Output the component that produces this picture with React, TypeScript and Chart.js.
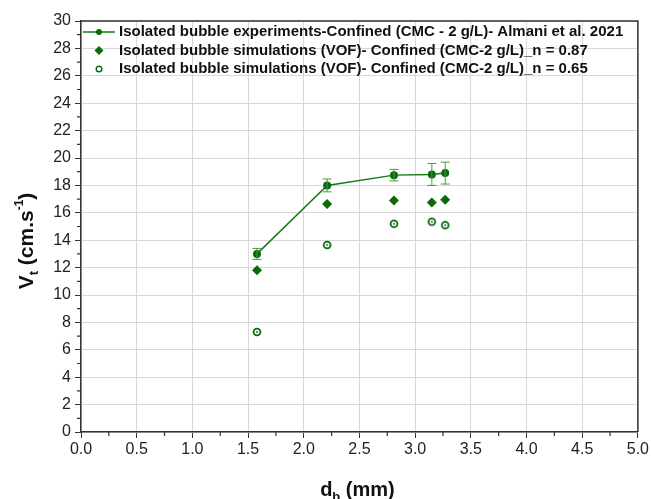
import React, { useEffect, useRef } from "react";
import { Chart, registerables } from "chart.js";

Chart.register(...registerables);

const bubbleDiameters = [1.58, 2.21, 2.81, 3.15, 3.27];
const expVelocity = [13.0, 18.0, 18.75, 18.8, 18.9];
const expError = [0.4, 0.47, 0.42, 0.8, 0.8];
const simVelocityN087 = [11.8, 16.65, 16.9, 16.75, 16.95];
const simVelocityN065 = [7.3, 13.65, 15.2, 15.35, 15.1];
const seriesLabels = [
  "Isolated bubble experiments-Confined (CMC - 2 g/L)- Almani et al. 2021",
  "Isolated bubble simulations (VOF)- Confined (CMC-2 g/L)_n = 0.87",
  "Isolated bubble simulations (VOF)- Confined (CMC-2 g/L)_n = 0.65",
];

const GREEN = "#0b6a0b";
const LINE_GREEN = "#167a16";
const ERR_GREEN = "#3f9f3f";
const FONT = "'Liberation Sans', Arial, sans-serif";

function makeRing(r: number, lw: number) {
  const c = document.createElement("canvas");
  const s = 12;
  c.width = s;
  c.height = s;
  const ctx = c.getContext("2d")!;
  ctx.strokeStyle = GREEN;
  ctx.lineWidth = lw;
  ctx.beginPath();
  ctx.arc(s / 2, s / 2, r, 0, Math.PI * 2);
  ctx.stroke();
  ctx.fillStyle = GREEN;
  ctx.beginPath();
  ctx.arc(s / 2, s / 2, 0.9, 0, Math.PI * 2);
  ctx.fill();
  return c;
}

function drawRich(
  ctx: CanvasRenderingContext2D,
  parts: { t: string; size: number; dy: number }[],
  cx: number,
  baseY: number
) {
  let total = 0;
  for (const p of parts) {
    ctx.font = `bold ${p.size}px ${FONT}`;
    total += ctx.measureText(p.t).width;
  }
  let x = cx - total / 2;
  ctx.textAlign = "left";
  ctx.textBaseline = "alphabetic";
  for (const p of parts) {
    ctx.font = `bold ${p.size}px ${FONT}`;
    ctx.fillText(p.t, x, baseY + p.dy);
    x += ctx.measureText(p.t).width;
  }
}

const customPlugin = {
  id: "custom",
  afterDatasetsDraw(chart: any) {
    const ctx = chart.ctx as CanvasRenderingContext2D;
    const xs = chart.scales.x;
    const ys = chart.scales.y;
    ctx.save();
    ctx.strokeStyle = ERR_GREEN;
    ctx.lineWidth = 1;
    bubbleDiameters.forEach((d, i) => {
      const px = xs.getPixelForValue(d);
      const top = ys.getPixelForValue(expVelocity[i] + expError[i]);
      const bot = ys.getPixelForValue(expVelocity[i] - expError[i]);
      ctx.beginPath();
      ctx.moveTo(px, top);
      ctx.lineTo(px, bot);
      ctx.moveTo(px - 4.5, top);
      ctx.lineTo(px + 4.5, top);
      ctx.moveTo(px - 4.5, bot);
      ctx.lineTo(px + 4.5, bot);
      ctx.stroke();
    });
    ctx.restore();
  },
  afterDraw(chart: any) {
    const ctx = chart.ctx as CanvasRenderingContext2D;
    const { left, right, top, bottom } = chart.chartArea;
    const xs = chart.scales.x;
    const ys = chart.scales.y;
    ctx.save();
    ctx.strokeStyle = "#333";
    ctx.lineWidth = 1.5;
    ctx.beginPath();
    ctx.moveTo(left, top);
    ctx.lineTo(right, top);
    ctx.lineTo(right, bottom);
    ctx.stroke();
    ctx.lineWidth = 1.2;
    ctx.beginPath();
    for (let v = 1; v < 30; v += 2) {
      const py = ys.getPixelForValue(v);
      ctx.moveTo(left, py);
      ctx.lineTo(left - 4, py);
    }
    for (let v = 0.25; v < 5; v += 0.5) {
      const px = xs.getPixelForValue(v);
      ctx.moveTo(px, bottom);
      ctx.lineTo(px, bottom + 4);
    }
    ctx.stroke();

    // legend
    const rowY = [32, 50.5, 69];
    ctx.font = `bold 15px ${FONT}`;
    ctx.textAlign = "left";
    ctx.textBaseline = "middle";
    ctx.fillStyle = "#111";
    seriesLabels.forEach((lab, i) => {
      ctx.fillText(lab, 119, rowY[i]);
    });
    const mx = 99;
    ctx.strokeStyle = LINE_GREEN;
    ctx.lineWidth = 1.5;
    ctx.beginPath();
    ctx.moveTo(83, rowY[0]);
    ctx.lineTo(115, rowY[0]);
    ctx.stroke();
    ctx.fillStyle = GREEN;
    ctx.beginPath();
    ctx.arc(mx, rowY[0], 3, 0, Math.PI * 2);
    ctx.fill();
    ctx.beginPath();
    ctx.moveTo(mx, rowY[1] - 4.5);
    ctx.lineTo(mx + 4.5, rowY[1]);
    ctx.lineTo(mx, rowY[1] + 4.5);
    ctx.lineTo(mx - 4.5, rowY[1]);
    ctx.closePath();
    ctx.fill();
    ctx.strokeStyle = GREEN;
    ctx.lineWidth = 1.4;
    ctx.beginPath();
    ctx.arc(mx, rowY[2], 2.8, 0, Math.PI * 2);
    ctx.stroke();

    // axis titles
    ctx.fillStyle = "#111";
    drawRich(
      ctx,
      [
        { t: "d", size: 20, dy: 0 },
        { t: "b", size: 13, dy: 5 },
        { t: " (mm)", size: 20, dy: 0 },
      ],
      (left + right) / 2 - 2,
      496
    );
    ctx.save();
    ctx.translate(33, 241);
    ctx.rotate(-Math.PI / 2);
    drawRich(
      ctx,
      [
        { t: "V", size: 21, dy: 0 },
        { t: "t", size: 13, dy: 5 },
        { t: " (cm.s", size: 21, dy: 0 },
        { t: "-1", size: 12, dy: -10 },
        { t: ")", size: 21, dy: 0 },
      ],
      0,
      0
    );
    ctx.restore();
    ctx.restore();
  },
};

export default function App() {
  const ref = useRef<HTMLCanvasElement>(null);
  useEffect(() => {
    document.body.style.margin = "0";
    const ring = makeRing(3.4, 1.8);
    const chart = new Chart(ref.current!, {
      type: "scatter",
      data: {
        datasets: [
          {
            label: seriesLabels[0],
            data: bubbleDiameters.map((d, i) => ({ x: d, y: expVelocity[i] })),
            showLine: true,
            borderColor: LINE_GREEN,
            borderWidth: 1.5,
            backgroundColor: GREEN,
            pointBackgroundColor: GREEN,
            pointBorderColor: GREEN,
            pointRadius: 4,
            pointBorderWidth: 0,
            pointStyle: "circle",
          },
          {
            label: seriesLabels[1],
            data: bubbleDiameters.map((d, i) => ({ x: d, y: simVelocityN087[i] })),
            showLine: false,
            pointBackgroundColor: GREEN,
            pointBorderColor: GREEN,
            pointRadius: 5,
            pointBorderWidth: 0,
            pointStyle: "rectRot",
          },
          {
            label: seriesLabels[2],
            data: bubbleDiameters.map((d, i) => ({ x: d, y: simVelocityN065[i] })),
            showLine: false,
            pointStyle: ring as any,
            pointRadius: 4,
          },
        ],
      },
      options: {
        responsive: false,
        animation: false,
        layout: { padding: { top: 21, right: 13, left: 0, bottom: 0 } },
        plugins: { legend: { display: false }, tooltip: { enabled: false } },
        scales: {
          x: {
            type: "linear",
            min: 0,
            max: 5,
            afterFit: (s: any) => {
              s.height = 67;
            },
            ticks: {
              stepSize: 0.5,
              color: "#222",
              font: { family: FONT, size: 16 },
              padding: 2,
              callback: (v: any) => Number(v).toFixed(1),
              maxRotation: 0,
            },
            grid: { color: "#d8d8d8", lineWidth: 1, tickLength: 6, tickColor: "#333" },
            border: { color: "#333", width: 1.5 },
          },
          y: {
            type: "linear",
            min: 0,
            max: 30,
            afterFit: (s: any) => {
              s.width = 81;
            },
            ticks: {
              stepSize: 2,
              color: "#222",
              font: { family: FONT, size: 16 },
              padding: 4,
            },
            grid: { color: "#d8d8d8", lineWidth: 1, tickLength: 6, tickColor: "#333" },
            border: { color: "#333", width: 1.5 },
          },
        },
      },
      plugins: [customPlugin],
    });
    return () => chart.destroy();
  }, []);
  return <canvas ref={ref} width={651} height={499} style={{ display: "block" }} />;
}
